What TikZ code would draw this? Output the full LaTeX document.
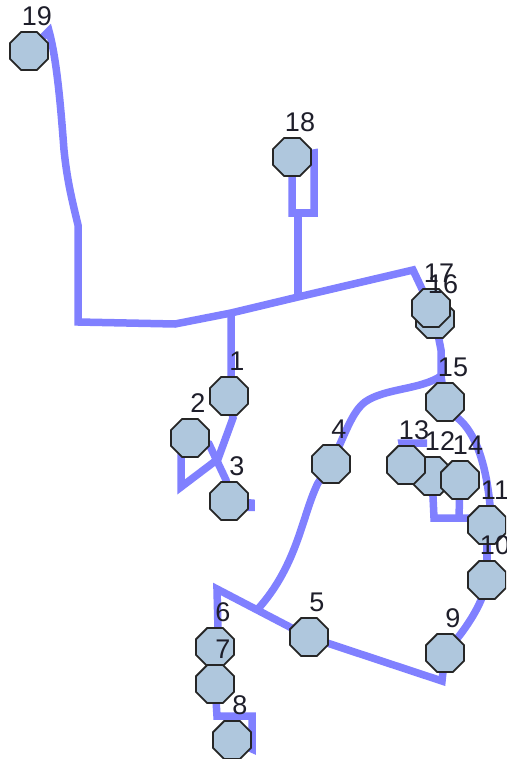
\documentclass[tikz,border=0pt]{standalone}
\usepackage{fontspec}
\setmainfont{Liberation Sans}
\usetikzlibrary{shapes.geometric,backgrounds}
\definecolor{routec}{HTML}{8080FF}
\definecolor{nodefill}{HTML}{AFC7DD}
\definecolor{lblc}{HTML}{1E1E2A}
\begin{document}
\begin{tikzpicture}[x=1pt,y=-1pt,
  stop/.style={regular polygon, regular polygon sides=8, minimum size=41pt, inner sep=0pt,
               draw=black!85, line width=1.8pt, fill=nodefill},
  lbl/.style={inner sep=0pt, font=\fontsize{27}{27}\selectfont, text=lblc},
  route/.style={draw=routec, line width=7.5pt}]
\clip (0,0) rectangle (506,759);
% stops
\node[stop] (n1) at (229,396) {};
\node[stop] (n2) at (190,438) {};
\node[stop] (n3) at (229,501) {};
\node[stop] (n4) at (331,464) {};
\node[stop] (n5) at (309,637) {};
\node[stop] (n6) at (215,647) {};
\node[stop] (n7) at (215,684) {};
\node[stop] (n8) at (232,740) {};
\node[stop] (n9) at (445,653) {};
\node[stop] (n10) at (487,580) {};
\node[stop] (n11) at (487,525) {};
\node[stop] (n12) at (432,476) {};
\node[stop] (n13) at (406,465) {};
\node[stop] (n14) at (460,480) {};
\node[stop] (n15) at (445,402) {};
\node[stop] (n16) at (435,319) {};
\node[stop] (n17) at (431,308) {};
\node[stop] (n18) at (292,157) {};
\node[stop] (n19) at (29,51) {};
% labels
\foreach \i in {1,...,19}{
  \node[lbl] (l\i) at ([shift={(8,-35)}]n\i.center) {\i};
}
% junctions and free ends
\coordinate (j1) at (231,313);
\coordinate (j18) at (298,297);
\coordinate (j15) at (441,376);
\coordinate (j5) at (257,610);
\coordinate (c13) at (427,443);
\coordinate (c3) at (251,511);
\begin{scope}[on background layer]
\fill[white] (0,0) rectangle (506,759);
\draw[route] (n19.center) -- (49,31) .. controls (57,60) and (61,110) .. (64,150)
   .. controls (67,180) and (72,200) .. (78,225) -- (78,322) -- (175,324) -- (j1) -- (j18)
   -- (413,270) -- (n17.center);
\draw[route] (j1) -- (231,380) -- (n1.center);
\draw[route] (j18) -- (298,213);
\draw[route] (n18.center) -- (292,213) -- (314,213) -- (314,153) -- (n18.center);
\draw[route] (n17.center) -- (n16.center) -- (441,350) -- (j15) -- (n15.center);
\draw[route] (j15) .. controls (420,390) and (385,388) .. (365,402)
   .. controls (352,412) and (346,432) .. (n4.center);
\draw[route] (n4.center) -- (318,483) .. controls (302,515) and (298,565) .. (j5);
\draw[route] (n5.center) -- (217,589) -- (218,630) -- (n6.center);
\draw[route] (n5.center) -- (442,681) -- (n9.center);
\draw[route] (n9.center) .. controls (470,625) and (484,600) .. (n10.center);
\draw[route] (n10.center) -- (n11.center);
\draw[route] (n11.center) -- (490,505) .. controls (485,455) and (472,428) .. (455,416) -- (n15.center);
\draw[route] (n12.center) -- (434,518) -- (474,518) -- (n11.center);
\draw[route] (n14.center) -- (459,518);
\draw[route] (n13.center) -- (402,443) -- (c13);
\draw[route] (n2.center) -- (181,455) -- (181,487) -- (218,459) -- (233,418) -- (n1.center);
\draw[route] (n2.center) -- (209,444) -- (226,480) -- (n3.center);
\draw[route] (n3.center) -- (251,503) -- (c3);
\draw[route] (n7.center) -- (217,716) -- (252,716) -- (252,749) -- (n8.center);
\end{scope}
\end{tikzpicture}
\end{document}
